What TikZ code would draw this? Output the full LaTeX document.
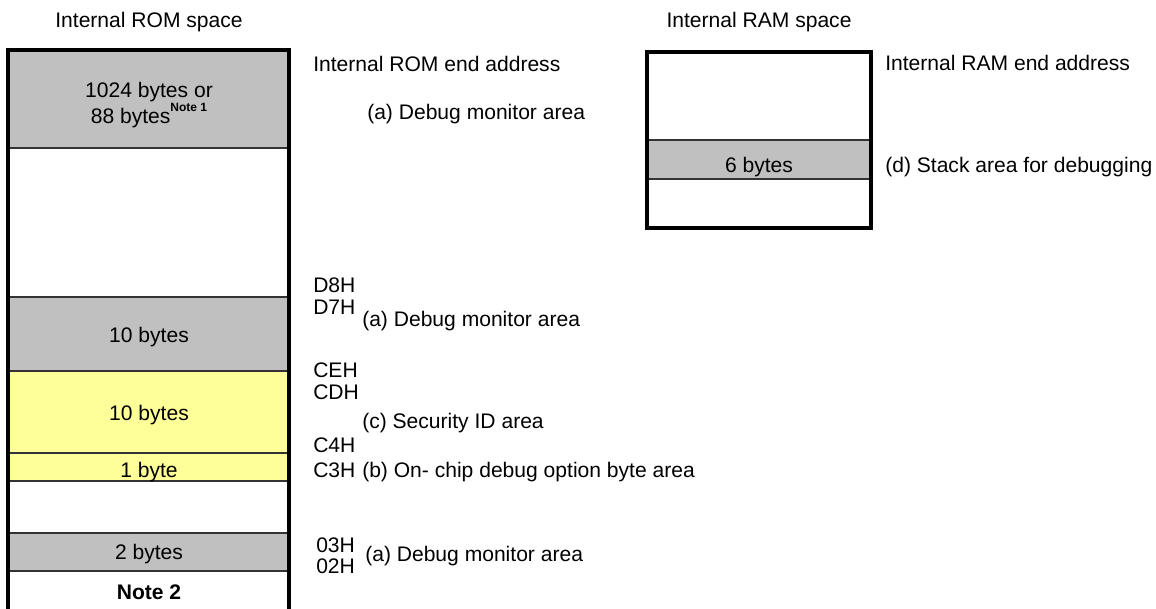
\documentclass[tikz,border=0pt]{standalone}
\usepackage{fontspec}
\setmainfont{Liberation Sans}
\usetikzlibrary{calc}

\definecolor{areagray}{RGB}{192,192,192}
\definecolor{areayellow}{RGB}{255,255,153}

\tikzset{
  outline/.style={line width=2.6pt, line join=miter},
  divider/.style={line width=1.1pt, draw=black!80},
  txt/.style={inner sep=0pt, font=\fontsize{15.8}{18}\selectfont},
  addr/.style={txt, anchor=base west},
  inbox/.style={txt, anchor=base},
}

\begin{document}
\begin{tikzpicture}[x=0.75pt,y=-0.75pt]
\useasboundingbox (0,0) rectangle (1156,609);

% ROM areas
\fill[areagray] (8,50) rectangle (289,148);
\fill[areagray] (8,297) rectangle (289,371);
\fill[areayellow] (8,371) rectangle (289,453);
\fill[areayellow] (8,453) rectangle (289,481);
\fill[areagray] (8,533) rectangle (289,571);

% Dividers
\foreach \y in {148,297,371,453,481,533,571} {
\draw[divider] (8,\y) -- (289,\y);
}

% ROM outline, open at the bottom
\draw[outline] (8,620) -- (8,50) -- (289,50) -- (289,620);

% RAM areas
\fill[areagray] (647,140) rectangle (871,179);
\draw[divider] (647,140) -- (871,140);
\draw[divider] (647,179) -- (871,179);
\draw[outline] (647,52) rectangle (871,228);

% Titles
\node[inbox] (romtitle) at (149,28) {Internal ROM space};
\node[inbox] (ramtitle) at (759,28) {Internal RAM space};

% Sizes
\node[inbox] (monsizea) at (149,98) {1024 bytes or};
\node[inbox] (monsizeb) at (149,124) {88 bytes\raisebox{9pt}{\fontsize{9}{10}\selectfont\bfseries Note 1}};
\node[inbox] (monten) at (149,343) {10 bytes};
\node[inbox] (secid) at (149,420) {10 bytes};
\node[inbox] (optbyte) at (149,477) {1 byte};
\node[inbox] (montwo) at (149,559) {2 bytes};
\node[inbox] (notetwo) at (149,599) {\bfseries Note 2};
\node[inbox] (stacksize) at (759,173) {6 bytes};

% Addresses
\node[addr] (romend) at (313,72) {Internal ROM end address};
\node[addr] (ramend) at (885,71) {Internal RAM end address};
\foreach \name/\y/\txt in {d8/293/D8H, d7/315/D7H, ce/378/CEH, cd/399/CDH, c4/452/C4H, c3/477/C3H} {
\node[addr] (adr\name) at (313,\y) {\txt};
}
\node[addr] (adr03) at (316,552) {03H};
\node[addr] (adr02) at (316,573) {02H};

% Area names
\node[addr] (debuga) at (367,120) {(a) Debug monitor area};
\node[addr] (debugb) at (362,327) {(a) Debug monitor area};
\node[addr] (secarea) at (362,428) {(c) Security ID area};
\node[addr] (optarea) at (362,477) {(b) On- chip debug option byte area};
\node[addr] (debugc) at (365,561) {(a) Debug monitor area};
\node[addr] (stackarea) at (885,173) {(d) Stack area for debugging};

\end{tikzpicture}
\end{document}
